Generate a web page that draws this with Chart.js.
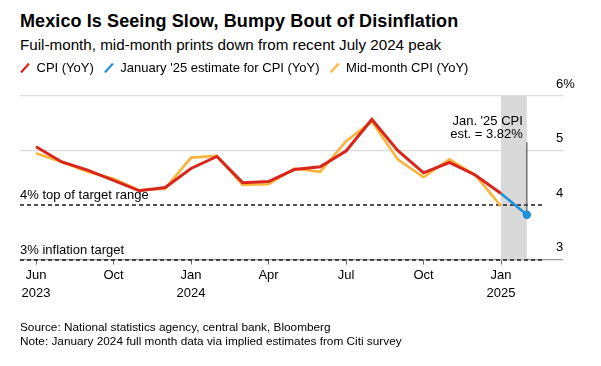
<!DOCTYPE html>
<html>
<head>
<meta charset="utf-8">
<script src="https://cdn.jsdelivr.net/npm/chart.js@4.4.1/dist/chart.umd.min.js"></script>
<style>
  html, body { margin:0; padding:0; background:#fff; }
  body { width:601px; height:366px; position:relative; overflow:hidden; font-family:'Liberation Sans', Arial, sans-serif; color:#000; }
  #title { position:absolute; left:20px; top:10px; font-size:18px; line-height:22px; font-weight:bold; white-space:nowrap; letter-spacing:0.1px; }
  #subtitle { position:absolute; left:20px; top:36px; font-size:15.2px; line-height:18px; white-space:nowrap; }
  #source { position:absolute; left:20px; top:320px; font-size:11.8px; line-height:14px; white-space:nowrap; }
  canvas { position:absolute; left:0; top:0; }
</style>
</head>
<body>
<div id="title">Mexico Is Seeing Slow, Bumpy Bout of Disinflation</div>
<div id="subtitle">Fuil-month, mid-month prints down from recent July 2024 peak</div>
<canvas id="c" width="601" height="366"></canvas>
<div id="source">Source: National statistics agency, central bank, Bloomberg<br>Note: January 2024 full month data via implied estimates from Citi survey</div>
<script>
// ---- data ----
const months = ['Jun 2023','Jul 2023','Aug 2023','Sep 2023','Oct 2023','Nov 2023','Dec 2023',
  'Jan 2024','Feb 2024','Mar 2024','Apr 2024','May 2024','Jun 2024','Jul 2024','Aug 2024',
  'Sep 2024','Oct 2024','Nov 2024','Dec 2024','Jan 2025'];
const cpi = [5.07,4.79,4.64,4.45,4.26,4.32,4.67,4.89,4.41,4.43,4.65,4.70,4.99,5.57,5.00,4.59,4.78,4.55,4.21,null];
const janEstimate = [null,null,null,null,null,null,null,null,null,null,null,null,null,null,null,null,null,null,4.21,3.82];
const midMonth = [4.95,4.79,4.61,4.48,4.27,4.30,4.87,4.90,4.37,4.38,4.67,4.61,5.17,5.53,4.84,4.51,4.84,4.55,3.98,null];
const xTickIndex = [0,3,6,9,12,15,18];
const xTickLabels = [['Jun','2023'],'Oct',['Jan','2024'],'Apr','Jul','Oct',['Jan','2025']];
const yTicks = [3,4,5,6];
const targetValues = [4,3];
const targetLabels = ['4% top of target range','3% inflation target'];
const seriesNames = ['CPI (YoY)',"January '25 estimate for CPI (YoY)",'Mid-month CPI (YoY)'];
const estimateNote = ["Jan. '25 CPI", 'est. = 3.82%'];

const FONT = "'Liberation Sans', Arial, sans-serif";
const RED = '#d8261c', BLUE = '#1f8fd8', YELLOW = '#fbb43a';

function toPts(arr){ return arr.map((v,i)=>({x:i, y:v})); }
function icon(color){
  const c = document.createElement('canvas'); c.width = 10; c.height = 10;
  const g = c.getContext('2d'); g.strokeStyle = color; g.lineWidth = 2.2;
  g.beginPath(); g.moveTo(1,9.5); g.lineTo(9,0.5); g.stroke();
  return c;
}
const icons = [icon(RED), icon(BLUE), icon(YELLOW)];
const lastIdx = months.length - 1;

const overlay = {
  id:'overlay',
  beforeDatasetsDraw(chart){
    const {ctx, chartArea:a, scales:{x,y}} = chart;
    ctx.save();
    // estimate band
    const x0 = x.getPixelForValue(lastIdx-1), x1 = x.getPixelForValue(lastIdx);
    ctx.fillStyle = '#d9d9d9';
    ctx.fillRect(x0, a.top, x1-x0, a.bottom-a.top);
    // target lines
    const xEnd = x.getPixelForValue(lastIdx + 0.63);
    ctx.strokeStyle = '#1a1a1a'; ctx.lineWidth = 1.4; ctx.setLineDash([4,3]);
    targetValues.forEach(v=>{
      const py = Math.round(y.getPixelForValue(v)) ;
      ctx.beginPath(); ctx.moveTo(a.left, py); ctx.lineTo(xEnd, py); ctx.stroke();
    });
    ctx.setLineDash([]);
    ctx.fillStyle = '#000'; ctx.font = '13px ' + FONT; ctx.textAlign = 'left'; ctx.textBaseline = 'middle';
    targetValues.forEach((v,i)=>{
      ctx.fillText(targetLabels[i], a.left, y.getPixelForValue(v) - 9.5);
    });
    // leader line
    ctx.strokeStyle = '#555'; ctx.lineWidth = 1.2;
    ctx.beginPath(); ctx.moveTo(x1, y.getPixelForValue(5.15)); ctx.lineTo(x1, y.getPixelForValue(janEstimate[lastIdx])); ctx.stroke();
    ctx.restore();
  },
  afterDatasetsDraw(chart){
    const {ctx, scales:{x,y}} = chart;
    ctx.save();
    ctx.fillStyle = '#000'; ctx.font = '13px ' + FONT; ctx.textAlign = 'right'; ctx.textBaseline = 'middle';
    const xr = x.getPixelForValue(lastIdx) - 4;
    ctx.fillText(estimateNote[0], xr, y.getPixelForValue(5.54));
    ctx.fillText(estimateNote[1], xr, y.getPixelForValue(5.29));
    ctx.restore();
  }
};

new Chart(document.getElementById('c'), {
  type:'line',
  data:{
    datasets:[
      { label:seriesNames[0], data:toPts(cpi), borderColor:RED, backgroundColor:RED, borderWidth:3, pointRadius:0, tension:0, xAxisID:'x', yAxisID:'y' },
      { label:seriesNames[1], data:toPts(janEstimate), borderColor:BLUE, backgroundColor:BLUE, borderWidth:2.6,
        pointRadius:(c)=> c.dataIndex===lastIdx ? 4.2 : 0, pointBorderWidth:0, pointHoverRadius:0, tension:0, xAxisID:'x', yAxisID:'y' },
      { label:seriesNames[2], data:toPts(midMonth), borderColor:YELLOW, backgroundColor:YELLOW, borderWidth:2.6, pointRadius:0, tension:0, xAxisID:'x', yAxisID:'y' }
    ]
  },
  options:{
    responsive:false, animation:false, events:[],
    layout:{ padding:{ top:51.5, left:10, right:0, bottom:56.5 } },
    plugins:{
      tooltip:{enabled:false},
      legend:{
        position:'top', align:'start',
        labels:{
          usePointStyle:true, boxWidth:10, padding:10, color:'#000',
          font:{ family:FONT, size:13 },
          generateLabels(chart){
            return chart.data.datasets.map((d,i)=>({ text:d.label, pointStyle:icons[i], fillStyle:d.borderColor, strokeStyle:d.borderColor, lineWidth:0, hidden:false, datasetIndex:i, fontColor:'#000' }));
          }
        }
      }
    },
    scales:{
      x:{
        type:'linear', position:'bottom', min:-0.62, max:20.4,
        afterBuildTicks(s){ s.ticks = xTickIndex.map(v=>({value:v})); },
        afterFit(s){ s.height = 50; },
        grid:{ drawOnChartArea:false, drawTicks:true, tickLength:5, color:'#666', lineWidth:1 },
        border:{ display:false },
        ticks:{ color:'#000', font:{family:FONT, size:13, lineHeight:1.4}, padding:1.5, maxRotation:0, autoSkip:false,
          callback(v){ const k = xTickIndex.indexOf(v); return k>=0 ? xTickLabels[k] : ''; } }
      },
      xTop:{
        type:'linear', position:'top', display:true,
        grid:{display:false}, border:{display:false}, ticks:{display:false},
        afterFit(s){ s.height = 11.5; }
      },
      yLeft:{
        type:'linear', position:'left', display:true,
        grid:{display:false}, border:{display:false}, ticks:{display:false},
        afterFit(s){ s.width = 10; }
      },
      y:{
        type:'linear', position:'right', min:3, max:6,
        afterBuildTicks(s){ s.ticks = yTicks.map(v=>({value:v})); },
        afterFit(s){ s.width = 38; s._computeLabelArea = function(){ return undefined; }; },
        grid:{ drawTicks:false, lineWidth:1.2, color:(c)=> c.tick && c.tick.value===3 ? '#9a9a9a' : (c.tick && c.tick.value===4 ? 'rgba(0,0,0,0)' : '#dcdcdc') },
        border:{ display:false },
        ticks:{ color:'#000', font:{family:FONT, size:13}, padding:-7, labelOffset:-12, align:'center',
          callback(v){ return v===6 ? '6%' : String(v); } }
      }
    }
  },
  plugins:[overlay]
});
</script>
</body>
</html>
